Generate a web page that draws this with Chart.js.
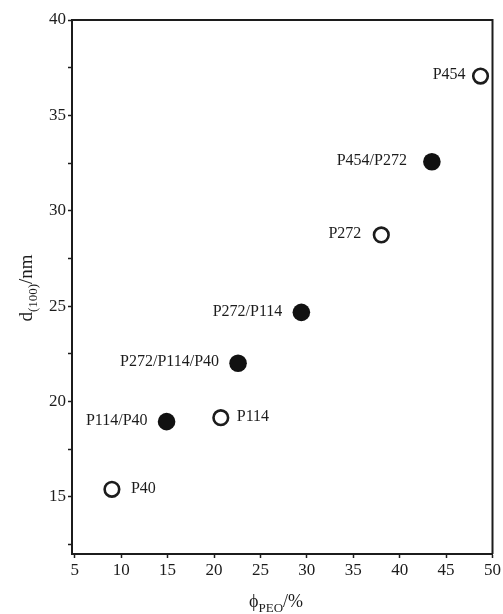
<!DOCTYPE html>
<html>
<head>
<meta charset="utf-8">
<script src="https://cdn.jsdelivr.net/npm/chart.js@4.4.1/dist/chart.umd.min.js"></script>
<style>
  html, body { margin: 0; padding: 0; background: #fff; }
  #wrap { width: 503px; height: 614px; }
</style>
</head>
<body>
<div id="wrap"><canvas id="chart" width="503" height="614"></canvas></div>
<script>
// open circles: pure polymers
var openLabels = ['P40', 'P114', 'P272', 'P454'];
var openPhi    = [9.0, 20.73, 38.02, 48.71];
var openD      = [15.39, 19.15, 28.73, 37.06];

// filled circles: blends
var filledLabels = ['P114/P40', 'P272/P114/P40', 'P272/P114', 'P454/P272'];
var filledPhi    = [14.89, 22.59, 29.41, 43.47];
var filledD      = [18.94, 22.0, 24.67, 32.57];

var xTicks = [5, 10, 15, 20, 25, 30, 35, 40, 45, 50];
var yTicks = [12.5, 15, 17.5, 20, 22.5, 25, 27.5, 30, 32.5, 35, 37.5, 40];

var INK = '#1c1c1c';
var SERIF = "'Liberation Serif', 'DejaVu Serif', serif";

function toPoints(xs, ys) {
    var pts = [];
    for (var i = 0; i < xs.length; i++) pts.push({ x: xs[i], y: ys[i] });
    return pts;
}

// frame on top and right, axis titles with subscripts
var framePlugin = {
    id: 'frame',
    afterDraw: function(chart) {
        var ctx = chart.ctx, a = chart.chartArea;
        ctx.save();
        ctx.strokeStyle = INK;
        ctx.lineWidth = 2;
        ctx.beginPath();
        ctx.moveTo(a.left, a.top);
        ctx.lineTo(a.right, a.top);
        ctx.lineTo(a.right, a.bottom);
        ctx.stroke();

        ctx.fillStyle = INK;
        ctx.textBaseline = 'alphabetic';
        ctx.textAlign = 'left';

        // x title: phi_PEO/%
        var big = '18px ' + SERIF, small = '13px ' + SERIF;
        ctx.font = big;  var w1 = ctx.measureText('\u03D5').width;
        ctx.font = small; var w2 = ctx.measureText('PEO').width;
        ctx.font = big;  var w3 = ctx.measureText('/%').width;
        var x0 = 276 - (w1 + w2 + w3) / 2, yb = 607;
        ctx.font = big;  ctx.fillText('\u03D5', x0, yb);
        ctx.font = small; ctx.fillText('PEO', x0 + w1, yb + 4.5);
        ctx.font = big;  ctx.fillText('/%', x0 + w1 + w2, yb);

        // y title: d_(100)/nm, rotated
        ctx.translate(32, 288);
        ctx.rotate(-Math.PI / 2);
        big = '19px ' + SERIF; small = '13px ' + SERIF;
        ctx.font = big;  w1 = ctx.measureText('d').width;
        ctx.font = small; w2 = ctx.measureText('(100)').width;
        ctx.font = big;  w3 = ctx.measureText('/nm').width;
        x0 = -(w1 + w2 + w3) / 2;
        ctx.font = big;  ctx.fillText('d', x0, 0);
        ctx.font = small; ctx.fillText('(100)', x0 + w1, 4.5);
        ctx.font = big;  ctx.fillText('/nm', x0 + w1 + w2, 0);
        ctx.restore();
    }
};

// sample names next to each marker
var labelPlugin = {
    id: 'pointLabels',
    afterDatasetsDraw: function(chart) {
        var ctx = chart.ctx;
        ctx.save();
        ctx.font = '16px ' + SERIF;
        ctx.fillStyle = INK;
        ctx.textBaseline = 'middle';
        chart.data.datasets.forEach(function(ds, di) {
            var meta = chart.getDatasetMeta(di);
            meta.data.forEach(function(el, i) {
                var dx = ds.labelDx[i];
                ctx.textAlign = dx < 0 ? 'right' : 'left';
                ctx.fillText(ds.names[i], el.x + dx, el.y - 1);
            });
        });
        ctx.restore();
    }
};

var ctx = document.getElementById('chart');
new Chart(ctx, {
    type: 'scatter',
    data: {
        datasets: [
            {
                label: 'pure',
                names: openLabels,
                labelDx: [19, 16, -20, -15],
                data: toPoints(openPhi, openD),
                pointRadius: 7.3,
                pointBorderWidth: 2.6,
                pointBackgroundColor: '#fff',
                pointBorderColor: INK
            },
            {
                label: 'blend',
                names: filledLabels,
                labelDx: [-19, -19, -19, -25],
                data: toPoints(filledPhi, filledD),
                pointRadius: 8.8,
                pointBorderWidth: 0,
                pointBackgroundColor: '#111',
                pointBorderColor: '#111'
            }
        ]
    },
    options: {
        responsive: false,
        animation: false,
        events: [],
        layout: { padding: { top: 20, right: 10, left: 0, bottom: 0 } },
        plugins: { legend: { display: false }, tooltip: { enabled: false } },
        scales: {
            x: {
                type: 'linear',
                min: 4.7,
                max: 50,
                afterBuildTicks: function(axis) {
                    axis.ticks = xTicks.map(function(v) { return { value: v }; });
                },
                afterFit: function(axis) { axis.height = 60; },
                border: { display: true, color: INK, width: 2 },
                grid: { drawOnChartArea: false, drawTicks: true, tickLength: 4, tickWidth: 1.5, tickColor: INK },
                ticks: { color: INK, font: { family: SERIF, size: 17 }, padding: 2, maxRotation: 0, autoSkip: false }
            },
            y: {
                type: 'linear',
                min: 12,
                max: 40,
                afterBuildTicks: function(axis) {
                    axis.ticks = yTicks.map(function(v) { return { value: v }; });
                },
                afterFit: function(axis) { axis.width = 72; },
                border: { display: true, color: INK, width: 2 },
                grid: { drawOnChartArea: false, drawTicks: true, tickLength: 4, tickWidth: 1.5, tickColor: INK },
                ticks: {
                    color: INK,
                    font: { family: SERIF, size: 17 },
                    padding: 2,
                    autoSkip: false,
                    callback: function(v) { return v % 5 === 0 ? v : ''; }
                }
            }
        }
    },
    plugins: [framePlugin, labelPlugin]
});
</script>
</body>
</html>
